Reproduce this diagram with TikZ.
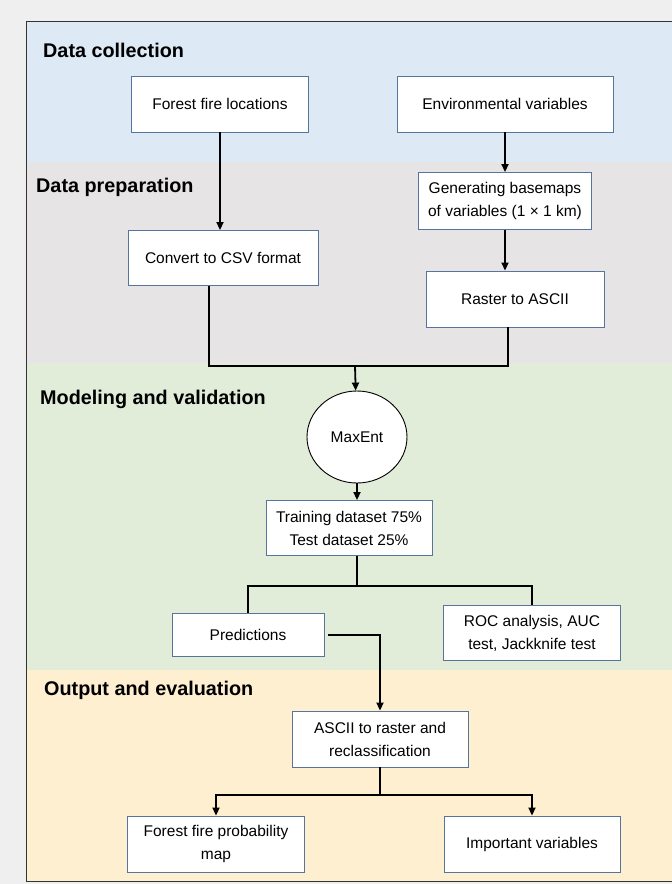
\documentclass[tikz,border=0pt]{standalone}
\usepackage{fontspec}
\setmainfont{Liberation Sans}
\usepackage{tikz}
\usetikzlibrary{arrows.meta,positioning,shapes.geometric}

\definecolor{pagegray}{HTML}{EFEFEF}
\definecolor{bandblue}{HTML}{DDE9F5}
\definecolor{bandgray}{HTML}{E6E4E5}
\definecolor{bandgreen}{HTML}{E1EDD9}
\definecolor{bandyellow}{HTML}{FDEFD0}
\definecolor{boxline}{HTML}{56749C}

\begin{document}
\begin{tikzpicture}[
  x=1pt, y=-1pt,
  font=\fontsize{15.5}{23}\selectfont,
  >={Triangle[length=8pt,width=7pt]},
  stepbox/.style={draw=boxline, fill=white, align=center, inner sep=2pt, line width=0.9pt, minimum width=177pt, minimum height=56pt},
  modelnode/.style={draw=black, fill=white, ellipse, line width=0.9pt, minimum width=100pt, minimum height=92pt, inner sep=1pt},
  bandtitle/.style={font=\fontsize{19.8}{23}\selectfont\bfseries, anchor=base west, inner sep=0pt},
  arr/.style={->, line width=1.8pt},
  lnk/.style={line width=1.8pt}
]
\useasboundingbox (0,0) rectangle (672,884);
\fill[pagegray] (0,0) rectangle (672,884);
% bands
\fill[bandblue] (26,21) rectangle (672,162);
\fill[bandgray] (26,162) rectangle (672,363);
\fill[bandgreen] (26,363) rectangle (672,670);
\fill[bandyellow] (26,670) rectangle (672,881);
\draw[line width=1pt, black!80] (672,21) -- (26,21) -- (26,881) -- (672,881);

\node[bandtitle] (t1) at (43,57) {Data collection};
\node[bandtitle] (t2) at (36,192) {Data preparation};
\node[bandtitle] (t3) at (40,404) {Modeling and validation};
\node[bandtitle] (t4) at (44,695) {Output and evaluation};

% boxes
\node[stepbox] (ffl) at (220,104) {Forest fire locations};
\node[stepbox, minimum width=216pt] (env) at (505,104) {Environmental variables};
\node[stepbox, minimum width=173pt, minimum height=57pt] (gen) at (505,201) {Generating basemaps\\of variables (1 × 1 km)};
\node[stepbox, minimum width=190pt, minimum height=55pt] (csv) at (223,258) {Convert to CSV format};
\node[stepbox, minimum width=178pt] (ras) at (515,299) {Raster to ASCII};
\node[modelnode] (mx) at (357,437) {MaxEnt};
\node[stepbox, minimum width=166pt, minimum height=55pt] (trn) at (349,528) {Training dataset 75\%\\Test dataset 25\%};
\node[stepbox, minimum width=152pt, minimum height=43pt] (prd) at (248,635) {Predictions};
\node[stepbox, minimum width=177pt, minimum height=55pt] (roc) at (532,633) {ROC analysis, AUC\\test, Jackknife test};
\node[stepbox, minimum width=176pt] (asc) at (380,739) {ASCII to raster and\\reclassification};
\node[stepbox] (map) at (216,844) {Forest fire probability\\map};
\node[stepbox, minimum width=176pt] (imp) at (532,844) {Important variables};

\coordinate (mrg) at (355,366);
\coordinate (spl) at (357,586);
\coordinate (spo) at (380,795);

\draw[arr] (ffl) -- (ffl |- csv.north);
\draw[arr] (env) -- (env |- gen.north);
\draw[arr] (gen) -- (gen |- ras.north);
\draw[lnk] ([xshift=-14pt]csv.south) |- (mrg);
\draw[lnk] ([xshift=-7pt]ras.south) |- (mrg);
\draw[arr] (mrg) -- (mx);
\draw[arr] (mx) -- (mx |- trn.north);
\draw[lnk] (trn.south -| spl) -- (spl);
\draw[lnk] (spl) -| (prd.north);
\draw[lnk] (spl) -| (roc.north);
\draw[arr] ([xshift=4pt]prd.east) -| (asc.north);
\draw[lnk] (asc) -- (spo);
\draw[arr] (spo) -| (map.north);
\draw[arr] (spo) -| (imp.north);
\end{tikzpicture}
\end{document}
